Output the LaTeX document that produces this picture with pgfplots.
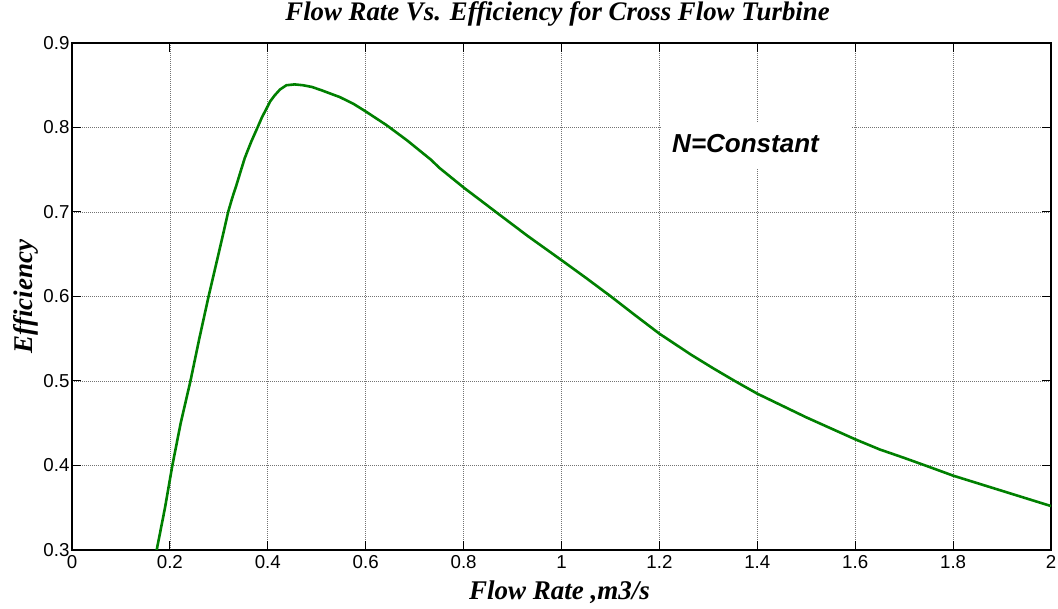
\documentclass[border=0pt]{standalone}
\usepackage{fontspec}
\setmainfont{Liberation Serif}
\newfontfamily\arial{Liberation Sans}
\usepackage{pgfplots}
\pgfplotsset{compat=1.18}
\definecolor{mgreen}{RGB}{0,128,0}
\begin{document}
\begin{tikzpicture}
\path[use as bounding box] (-72pt,-59pt) rectangle (986pt,550pt);
\begin{axis}[
  scale only axis,
  width=979pt, height=507pt,
  xmin=0, xmax=2, ymin=0.3, ymax=0.9,
  xtick={0,0.2,...,2.01},
  ytick={0.3,0.4,...,0.91},
  xticklabels={0,0.2,0.4,0.6,0.8,1,1.2,1.4,1.6,1.8,2},
  yticklabels={0.3,0.4,0.5,0.6,0.7,0.8,0.9},
  grid=major,
  major grid style={gray!90!black, line width=0.8pt, dash pattern=on 1pt off 1pt},
  tick align=inside,
  major tick length=9pt,
  every tick/.style={black, line width=1pt},
  axis line style={black, line width=1.6pt},
  tick label style={font=\arial\fontsize{18.7}{20}\selectfont},
  /pgf/number format/assume math mode=true,
  xticklabel style={yshift=-2pt},
  yticklabel style={xshift=1pt},
  title={Flow Rate Vs. Efficiency for Cross Flow Turbine},
  title style={font=\fontsize{26.8}{30}\selectfont\bfseries\itshape, at={([xshift=-4pt,yshift=16.3pt]axis description cs:0.5,1)}, anchor=base},
  xlabel={Flow Rate ,m3/s},
  xlabel style={font=\fontsize{27}{30}\selectfont\bfseries\itshape, at={([xshift=-2pt,yshift=-50pt]axis description cs:0.5,0)}, anchor=base},
  ylabel={Efficiency},
  ylabel style={font=\fontsize{27}{30}\selectfont\bfseries\itshape, at={([xshift=-39pt]axis description cs:0,0.5)}, anchor=base},
]
\addplot[mgreen, line width=2.6pt, line join=round] coordinates {
(0.173,0.300) (0.190,0.350) (0.205,0.400) (0.222,0.450) (0.242,0.500)
(0.260,0.550) (0.279,0.600) (0.300,0.652) (0.310,0.677) (0.319,0.700)
(0.327,0.716) (0.336,0.732) (0.345,0.749) (0.353,0.764) (0.366,0.783)
(0.379,0.800) (0.388,0.812) (0.397,0.822) (0.405,0.831) (0.414,0.838)
(0.425,0.845) (0.438,0.850) (0.455,0.851) (0.472,0.850) (0.490,0.848)
(0.510,0.844) (0.547,0.836) (0.575,0.828) (0.600,0.819) (0.642,0.803)
(0.684,0.785) (0.733,0.762) (0.751,0.752) (0.800,0.729) (0.866,0.700)
(0.930,0.672) (1.000,0.643) (1.050,0.622) (1.101,0.600) (1.150,0.578)
(1.200,0.556) (1.265,0.531) (1.310,0.515) (1.354,0.500) (1.400,0.485)
(1.450,0.471) (1.500,0.457) (1.550,0.444) (1.600,0.431) (1.650,0.419)
(1.700,0.409) (1.748,0.399) (1.800,0.388) (1.850,0.379) (1.900,0.370)
(1.950,0.361) (2.000,0.352)
};
\node[fill=white, minimum width=191pt, minimum height=46pt, inner sep=0pt] at (axis cs:1.398,0.779) {};
\node[font=\arial\fontsize{26}{28}\selectfont\bfseries\itshape, inner sep=0pt] at (axis cs:1.376,0.781) {N=Constant};
\end{axis}
\end{tikzpicture}
\end{document}
